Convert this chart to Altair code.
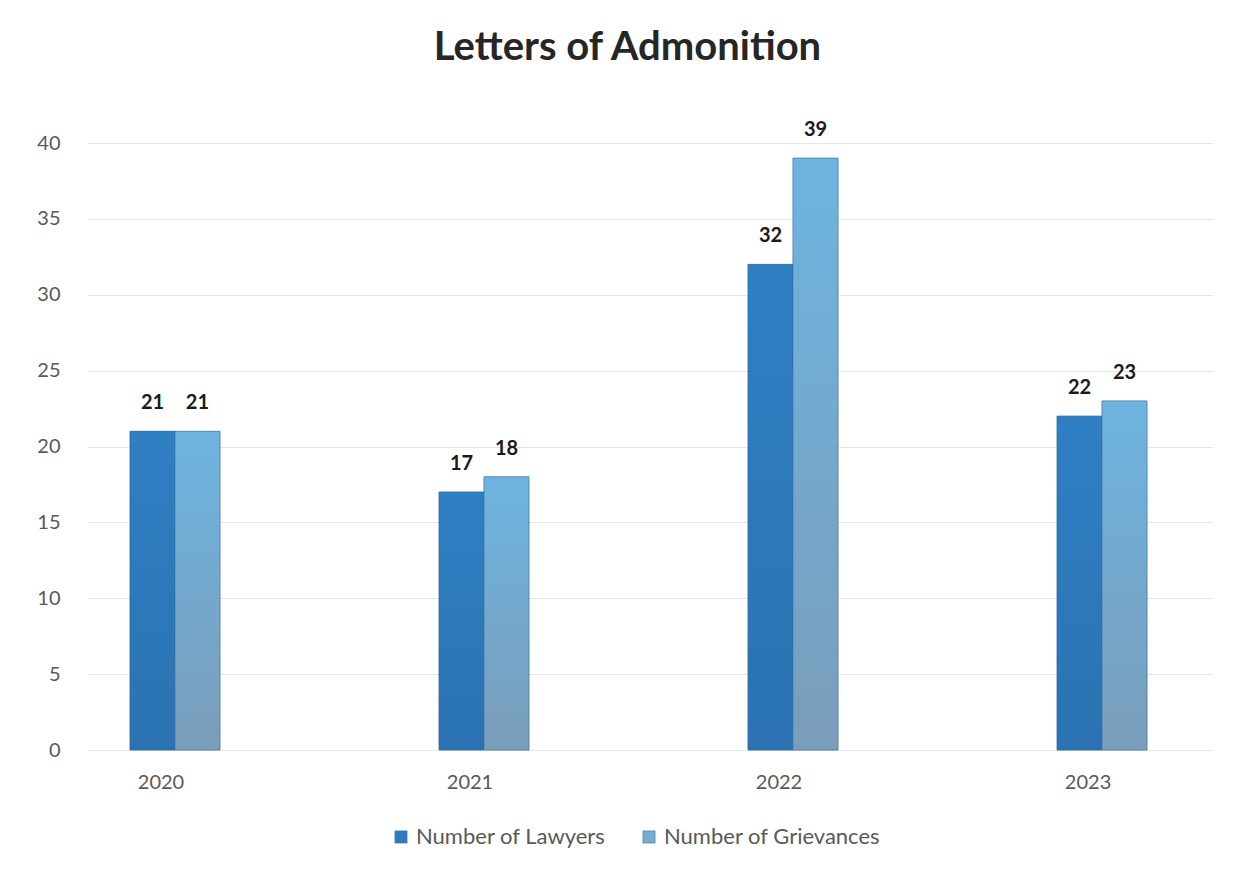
import altair as alt
import pandas as pd

years = ["2020", "2021", "2022", "2023"]
lawyers = [21, 17, 32, 22]
grievances = [21, 18, 39, 23]
series = ["Number of Lawyers", "Number of Grievances"]
colors = ["#2e7bbf", "#74acd2"]
y_ticks = [0, 5, 10, 15, 20, 25, 30, 35, 40]

rows = []
for i, yr in enumerate(years):
    rows.append({"year": yr, "series": series[0], "value": lawyers[i]})
    rows.append({"year": yr, "series": series[1], "value": grievances[i]})
df = pd.DataFrame(rows)

FONT = "Lato"

x = alt.X(
    "year:N",
    sort=years,
    scale=alt.Scale(paddingInner=0.709, paddingOuter=0.1748, align=0.389),
    axis=alt.Axis(title=None, labelAngle=0, labelFontSize=20, labelColor="#595959",
                  labelFont=FONT, ticks=False, domain=False, labelPadding=22,
                  labelOffset=-14, grid=False),
)
y = alt.Y(
    "value:Q",
    scale=alt.Scale(domain=[0, 40]),
    axis=alt.Axis(values=y_ticks, title=None, ticks=False, domain=False, labelPadding=28,
                  labelFontSize=20, labelColor="#595959", labelFont=FONT,
                  gridColor="#e6e6e6", gridWidth=1.2),
)
xo = alt.XOffset("series:N", sort=series, scale=alt.Scale(paddingInner=0, paddingOuter=0))

base = alt.Chart(df).encode(x=x, y=y, xOffset=xo)

bars = base.mark_bar(stroke="#3a6f96", strokeWidth=0.5).encode(
    color=alt.Color(
        "series:N", sort=series,
        scale=alt.Scale(domain=series, range=colors),
        legend=alt.Legend(orient="none", direction="horizontal", legendX=302, legendY=683,
                          title=None, symbolType="square", labelFontSize=22,
                          labelColor="#595959", labelFont=FONT, symbolSize=150,
                          labelLimit=0, columnPadding=32, symbolStrokeWidth=0.5,
                          symbolStrokeColor="#3a6f96"),
    )
)

griev_grad = base.transform_filter(alt.datum.series == series[1]).mark_bar(
    stroke="#3a6f96", strokeWidth=0.5,
    color=alt.Gradient(gradient="linear", x1=0, y1=0, x2=0, y2=1,
                       stops=[alt.GradientStop(color="#6db4e0", offset=0),
                              alt.GradientStop(color="#7a9dba", offset=1)]),
)

law_grad = base.transform_filter(alt.datum.series == series[0]).mark_bar(
    stroke="#2a6598", strokeWidth=0.5,
    color=alt.Gradient(gradient="linear", x1=0, y1=0, x2=0, y2=1,
                       stops=[alt.GradientStop(color="#2f7fc3", offset=0),
                              alt.GradientStop(color="#2b73b2", offset=1)]),
)

labels = base.mark_text(dy=-18, fontSize=20, fontWeight="bold", font=FONT,
                        color="#1a1a1a", baseline="bottom").encode(text="value:Q")

chart = alt.layer(bars, law_grad, griev_grad, labels).properties(
    width=1125,
    height=607,
    title=alt.TitleParams("Letters of Admonition", fontSize=40, font=FONT, fontWeight="bold",
                          color="#262626", anchor="middle", dx=-23, offset=52),
    autosize=alt.AutoSizeParams(type="none"),
    padding={"left": 80, "top": 135, "right": 30, "bottom": 100},
    background="white",
).configure_view(stroke=None)

chart.save("out.html", embed_options={"renderer": "svg", "actions": False})
